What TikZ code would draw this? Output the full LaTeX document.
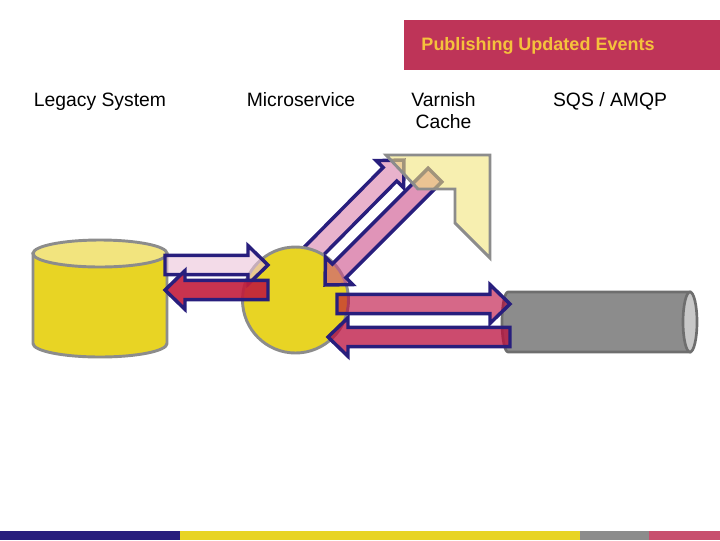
\documentclass[tikz,border=0pt]{standalone}
\usepackage{fontspec}
\setmainfont{Liberation Sans}
\usetikzlibrary{calc}

\definecolor{navyline}{RGB}{40,30,125}
\definecolor{banner}{RGB}{190,52,88}
\definecolor{bannertext}{RGB}{245,194,60}
\definecolor{dbyellow}{RGB}{232,212,36}
\definecolor{dbtop}{RGB}{242,228,126}
\definecolor{shapegray}{RGB}{140,140,140}
\definecolor{pipegray}{RGB}{140,140,140}
\definecolor{pipeline}{RGB}{110,110,110}
\definecolor{pipeend}{RGB}{200,200,200}
\definecolor{cacheyellow}{RGB}{242,228,123}
\definecolor{pinkA}{RGB}{235,195,217}
\definecolor{pinkB}{RGB}{194,29,60}
\definecolor{pinkC}{RGB}{187,3,57}
\definecolor{pinkD}{RGB}{187,15,62}
\definecolor{pinkE}{RGB}{217,127,170}
\definecolor{pinkF}{RGB}{203,77,137}
\definecolor{barpink}{RGB}{200,80,110}

\tikzset{
  label/.style={font=\fontsize{14.5}{17}\selectfont, align=center, anchor=base},
  blockarrow/.style={draw=navyline, line width=2.6pt, line join=miter, fill opacity=0.6},
  solidshape/.style={draw=shapegray, line width=2.2pt}
}

% block arrow: style, from, to
\newcommand{\blockarrow}[3]{%
  \coordinate (hb) at ($(#3)!15pt!(#2)$);
  \draw[blockarrow, #1] ($(#2)!7.2pt!90:(#3)$) -- ($(hb)!7.2pt!90:(#3)$) -- ($(hb)!14.5pt!90:(#3)$)
    -- (#3) -- ($(hb)!14.5pt!-90:(#3)$) -- ($(hb)!7.2pt!-90:(#3)$) -- ($(#2)!7.2pt!-90:(#3)$) -- cycle;
}

\begin{document}
\begin{tikzpicture}[x=0.75pt, y=-0.75pt]
  \useasboundingbox (0,0) rectangle (720,540);

  % title
  \fill[banner] (404,20) rectangle (720,70);
  \node[font=\fontsize{13.5}{16}\selectfont\bfseries, text=bannertext, anchor=base] (title) at (538,50) {Publishing Updated Events};

  % column labels
  \node[label] (legacy) at (100,106) {Legacy System};
  \node[label] (micro) at (301,106) {Microservice};
  \node[label] (varnish) at (443.5,106) {Varnish};
  \node[label] (cache) at (443.5,128) {Cache};
  \node[label] (sqs) at (610,106) {SQS / AMQP};

  % arrow end points
  \coordinate (A1) at (165,265);  \coordinate (B1) at (268,265);
  \coordinate (A2) at (268,290);  \coordinate (B2) at (165,290);
  \coordinate (A3) at (337,304);  \coordinate (B3) at (510,304);
  \coordinate (A4) at (510,337);  \coordinate (B4) at (328,337);
  \coordinate (A5) at (310,255);  \coordinate (B5) at (404,160);
  \coordinate (A6) at (435,175);  \coordinate (B6) at (325,285);

  \blockarrow{fill=pinkE}{A5}{B5}

  % microservice
  \draw[solidshape, fill=dbyellow] (295.5,300) circle[radius=53];

  % legacy database
  \draw[solidshape, fill=dbyellow] (33,253.5) -- (33,343.5)
    arc[start angle=180, end angle=0, x radius=67, y radius=13.5] -- (167,253.5) -- cycle;
  \draw[solidshape, fill=dbtop] (100,253.5) ellipse[x radius=67, y radius=13.5];

  % queue pipe
  \draw[draw=pipeline, line width=2pt, fill=pipegray] (690,352) -- (508,352)
    arc[start angle=90, end angle=270, x radius=6, y radius=30] -- (690,292) -- cycle;
  \draw[draw=pipeline, line width=2pt, fill=pipeend] (690,322) ellipse[x radius=7, y radius=30];

  \blockarrow{fill=pinkA}{A1}{B1}
  \blockarrow{fill=pinkB, fill opacity=0.9}{A2}{B2}
  \blockarrow{fill=pinkC}{A3}{B3}
  \blockarrow{fill=pinkD, fill opacity=0.75}{A4}{B4}
  \blockarrow{fill=pinkF}{A6}{B6}

  % varnish cache
  \draw[solidshape, fill=cacheyellow, fill opacity=0.6, line join=miter]
    (386,155) -- (490,155) -- (490,258) -- (455,223) -- (455,189) -- (418,189) -- cycle;

  % bottom bar
  \fill[navyline] (0,531) rectangle (180,540);
  \fill[dbyellow] (180,531) rectangle (580,540);
  \fill[shapegray] (580,531) rectangle (649,540);
  \fill[barpink] (649,531) rectangle (720,540);
\end{tikzpicture}
\end{document}
